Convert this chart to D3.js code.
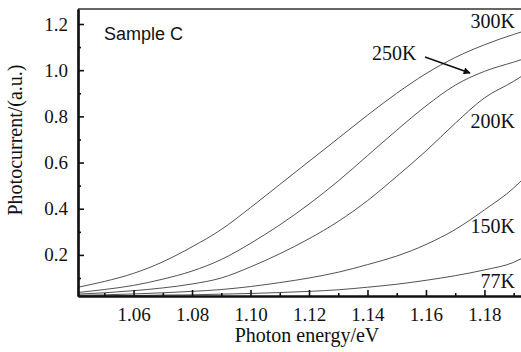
<!DOCTYPE html>
<html><head><meta charset="utf-8">
<script src="https://cdn.jsdelivr.net/npm/d3@7/dist/d3.min.js"></script>
<style>html,body{margin:0;padding:0;background:#fff;}svg{display:block;}</style>
</head><body>
<script>
const energies = [1.041,1.05,1.06,1.07,1.08,1.09,1.10,1.11,1.12,1.13,1.14,1.15,1.16,1.17,1.18,1.19,1.1925];
const s300 = [0.06,0.085,0.12,0.17,0.235,0.31,0.405,0.505,0.605,0.705,0.805,0.90,0.985,1.055,1.11,1.155,1.165];
const s250 = [0.037,0.05,0.068,0.095,0.13,0.18,0.25,0.33,0.42,0.52,0.63,0.74,0.845,0.935,0.995,1.035,1.045];
const s200 = [0.03,0.036,0.045,0.057,0.074,0.10,0.148,0.205,0.27,0.345,0.435,0.54,0.65,0.77,0.88,0.952,0.972];
const s150 = [0.025,0.027,0.031,0.036,0.042,0.05,0.063,0.08,0.10,0.125,0.158,0.195,0.245,0.31,0.395,0.49,0.52];
const s77  = [0.022,0.023,0.024,0.026,0.027,0.03,0.033,0.037,0.042,0.049,0.06,0.073,0.09,0.11,0.135,0.168,0.183];
const seriesNames = ["300K","250K","200K","150K","77K"];
const xTicks = [1.06,1.08,1.10,1.12,1.14,1.16,1.18];
const xMinor = [1.05,1.07,1.09,1.11,1.13,1.15,1.17,1.19];
const yTicks = [0.2,0.4,0.6,0.8,1.0,1.2];
const yMinor = [0.1,0.3,0.5,0.7,0.9,1.1];

const W = 521, H = 352;
const svg = d3.select("body").append("svg").attr("width", W).attr("height", H);
const x = d3.scaleLinear().domain([1.041, 1.1925]).range([78, 521]);
const y = d3.scaleLinear().domain([0.022, 1.265]).range([296, 9]);

svg.append("defs").append("clipPath").attr("id","clip")
  .append("rect").attr("x",78).attr("y",9).attr("width",443).attr("height",287);
const marker = svg.select("defs").append("marker").attr("id","arr")
  .attr("viewBox","0 0 10 10").attr("refX",9).attr("refY",5)
  .attr("markerWidth",9).attr("markerHeight",7).attr("markerUnits","userSpaceOnUse").attr("orient","auto");
marker.append("path").attr("d","M0,0 L10,5 L0,10 Z").attr("fill","#111");

const line = d3.line().x((d,i)=>x(energies[i])).y(d=>y(d)).curve(d3.curveMonotoneX);
const allSeries = [s300,s250,s200,s150,s77];
svg.append("g").attr("clip-path","url(#clip)").selectAll("path").data(allSeries).join("path")
  .attr("d", d=>line(d)).attr("fill","none").attr("stroke","#333").attr("stroke-width",0.85);

// top border
svg.append("line").attr("x1",78).attr("x2",521).attr("y1",9).attr("y2",9).attr("stroke","#333").attr("stroke-width",1.5);

const font = "'Liberation Serif','Times New Roman',serif";
// x axis
const gx = svg.append("g").attr("transform","translate(0,296)");
gx.call(d3.axisBottom(x).tickValues(xTicks).tickSizeInner(-6).tickSizeOuter(0).tickPadding(12).tickFormat(d3.format(".2f")));
gx.append("g").call(d3.axisBottom(x).tickValues(xMinor).tickSizeInner(-3).tickSizeOuter(0).tickFormat(""));
gx.selectAll(".domain").attr("stroke","#111").attr("stroke-width",2.2);
gx.selectAll(".tick line").attr("stroke","#111").attr("stroke-width",1.6);
gx.selectAll("text").attr("font-family",font).attr("font-size",19).attr("fill","#111");

// y axis
const gy = svg.append("g").attr("transform","translate(78,0)");
gy.call(d3.axisLeft(y).tickValues(yTicks).tickSizeInner(-6).tickSizeOuter(0).tickPadding(10).tickFormat(d3.format(".1f")));
gy.append("g").call(d3.axisLeft(y).tickValues(yMinor).tickSizeInner(-3).tickSizeOuter(0).tickFormat(""));
gy.selectAll(".domain").attr("stroke","#111").attr("stroke-width",2.2);
gy.selectAll(".tick line").attr("stroke","#111").attr("stroke-width",1.6);
gy.selectAll("text").attr("font-family",font).attr("font-size",19).attr("fill","#111");

// titles
svg.append("text").attr("x",307).attr("y",342).attr("text-anchor","middle")
  .attr("font-family",font).attr("font-size",20).attr("fill","#111").text("Photon energy/eV");
svg.append("text").attr("transform","translate(22,140) rotate(-90)").attr("text-anchor","middle")
  .attr("font-family",font).attr("font-size",20).attr("fill","#111").text("Photocurrent/(a.u.)");
svg.append("text").attr("x",104).attr("y",40)
  .attr("font-family","'Liberation Sans',Arial,sans-serif").attr("font-size",18).attr("fill","#111").text("Sample C");

// series labels
const labelPos = [[515,28,"end"],[372,60,"start"],[515,128,"end"],[515,233,"end"],[515,288,"end"]];
seriesNames.forEach((n,i)=>{
  svg.append("text").attr("x",labelPos[i][0]).attr("y",labelPos[i][1]).attr("text-anchor",labelPos[i][2])
    .attr("font-family",font).attr("font-size",20).attr("fill","#111").text(n);
});
svg.append("line").attr("x1",425).attr("y1",57).attr("x2",470).attr("y2",73)
  .attr("stroke","#111").attr("stroke-width",1.4).attr("marker-end","url(#arr)");
</script>
</body></html>
